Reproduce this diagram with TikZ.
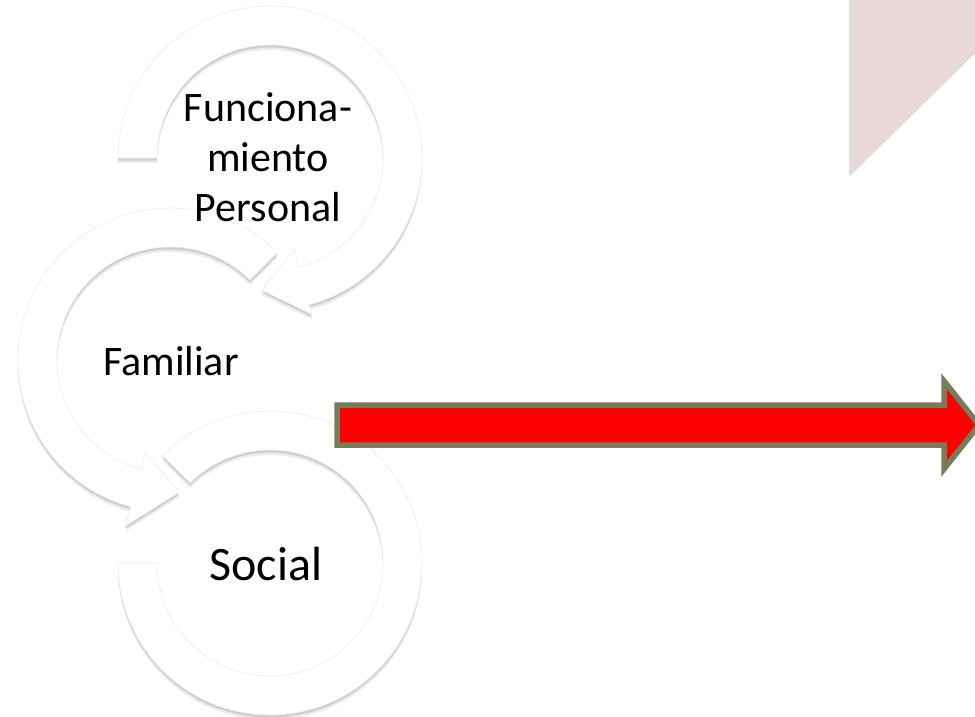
\documentclass[tikz,border=0pt]{standalone}
\usepackage{fontspec}
\setmainfont{Carlito}
\usetikzlibrary{calc,shadows}

\definecolor{arrowred}{RGB}{255,0,0}
\definecolor{arrowrim}{RGB}{119,124,91}
\definecolor{rosegray}{RGB}{230,217,216}

\tikzstyle{ring}=[fill=white, draw=black!8, line width=0.6pt,
  drop shadow={shadow xshift=0pt, shadow yshift=-5pt, opacity=0.12, fill=black!60},
  drop shadow={shadow xshift=0pt, shadow yshift=-2.5pt, opacity=0.25, fill=black!55}]
\tikzstyle{ringtext}=[inner sep=0pt, align=center]

\begin{document}
\begin{tikzpicture}[x=1pt, y=-1pt]
    \useasboundingbox (0,0) rectangle (975,716);
    \clip (0,0) rectangle (975,716);
    \coordinate (csoc) at (270,563);
    \coordinate (cfam) at (170,360);
    \coordinate (cper) at (270,158);
    % pale shape, top right
    \fill[rosegray, drop shadow={shadow xshift=-1pt, shadow yshift=-2pt, opacity=0.25, fill=black!50}]
      (850,-10) -- (850,175) -- (995,33) -- (995,-10) -- cycle;
    % rings
    \draw[ring] ($(csoc)+(225:152)$) arc[start angle=225, end angle=540, radius=152]
      -- ($(csoc)+(540:113)$) arc[start angle=540, end angle=225, radius=113] -- cycle;
    \draw[ring] ($(cfam)+(315:152)$) arc[start angle=315, end angle=105, radius=152]
      -- ($(cfam)+(105:172)$) -- ($(cfam)+(86:132.5)$) -- ($(cfam)+(105:96)$)
      -- ($(cfam)+(105:113)$) arc[start angle=105, end angle=315, radius=113] -- cycle;
    \draw[ring] ($(cper)+(180:152)$) arc[start angle=180, end angle=435, radius=152]
      -- ($(cper)+(435:162)$) -- ($(cper)+(453.5:132.5)$) -- ($(cper)+(435:94)$)
      -- ($(cper)+(435:113)$) arc[start angle=435, end angle=180, radius=113] -- cycle;
    \node[ringtext, font=\fontsize{42}{48}\selectfont] (personal) at (268,157) {Funciona-\\[2pt]miento\\[2pt]Personal};
    \node[ringtext, anchor=base, font=\fontsize{42}{48}\selectfont] (familiar) at (171,375) {Familiar};
    \node[ringtext, anchor=base, font=\fontsize{48}{54}\selectfont] (social) at (266,580) {Social};
    % red arrow
    \draw[fill=arrowred, draw=arrowrim, line width=5.5pt, miter limit=10]
      (337,405) -- (944,405) -- (944,381) -- (979,425) -- (944,469) -- (944,445) -- (337,445) -- cycle;
\end{tikzpicture}
\end{document}
